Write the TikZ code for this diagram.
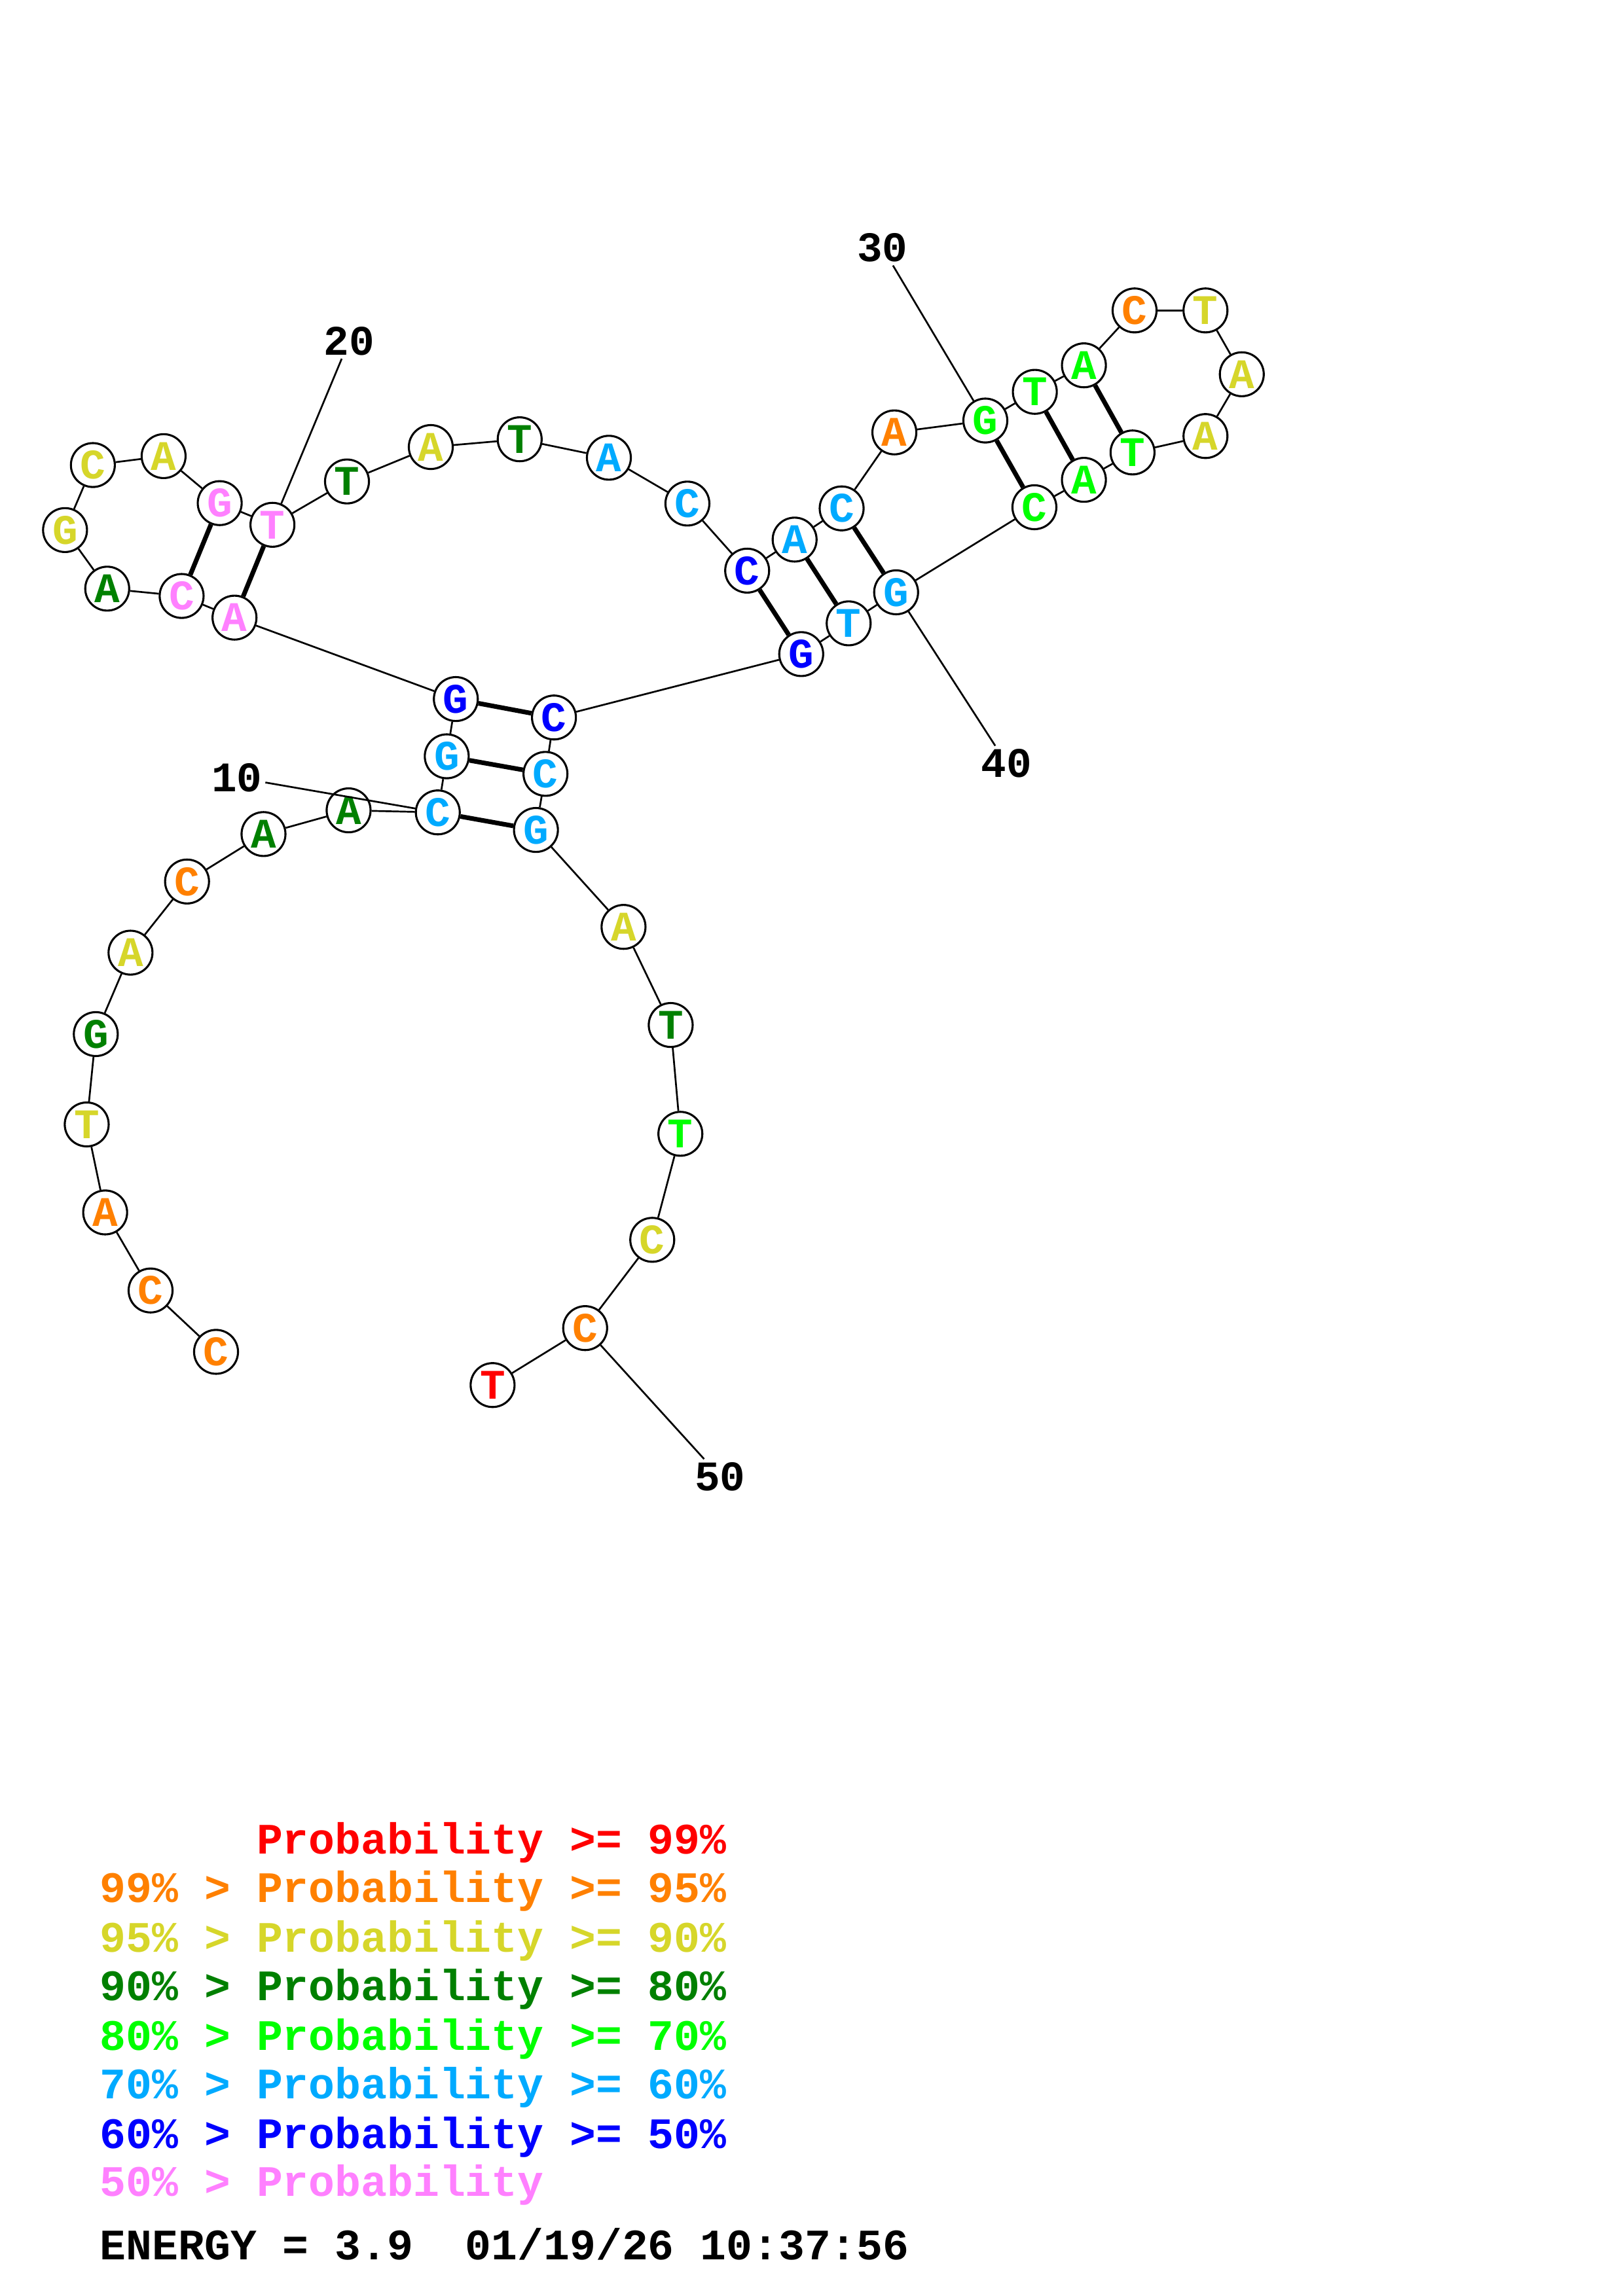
\documentclass[tikz,border=0pt]{standalone}
\usepackage{fontspec}
\setmonofont{Liberation Mono}
\usepackage{tikz}
\definecolor{probRed}{RGB}{255,0,0}
\definecolor{probOrange}{RGB}{255,128,0}
\definecolor{probYellow}{RGB}{214,214,42}
\definecolor{probDkGreen}{RGB}{0,128,0}
\definecolor{probGreen}{RGB}{0,255,0}
\definecolor{probLtBlue}{RGB}{0,170,255}
\definecolor{probBlue}{RGB}{0,0,255}
\definecolor{probPink}{RGB}{255,128,255}
\newcommand{\ntfont}{\ttfamily\bfseries\fontsize{15.5pt}{15.5pt}\selectfont}
\newcommand{\legfont}{\ttfamily\bfseries\fontsize{16pt}{16pt}\selectfont}
\tikzstyle{nucleo}=[circle,draw=black,line width=0.75pt,fill=white,minimum size=5.68mm,inner sep=0pt,font=\ntfont]
\tikzstyle{numlabel}=[inner sep=1pt,font=\ntfont]
\tikzstyle{legend}=[anchor=base west,inner sep=0pt,font=\legfont]
\tikzstyle{edge} = [draw,line width=0.65pt,-]
\tikzstyle{pair} = [draw,line width=1.7pt,-]

\begin{document}
\begin{tikzpicture}[x=0.189413mm,y=-0.189413mm]
    \useasboundingbox (0,0) rectangle (1108,1568);
    % First we draw the bases
    \foreach \pos/\name/\nt/\col in {{(147.5,923.2)/1/C/probOrange}, {(102.8,881.3)/2/C/probOrange},
        {(71.8,828.0)/3/A/probOrange}, {(59.2,767.9)/4/T/probYellow}, {(65.4,706.2)/5/G/probDkGreen},
        {(89.1,650.6)/6/A/probYellow}, {(127.7,602.0)/7/C/probOrange}, {(179.9,569.6)/8/A/probDkGreen},
        {(238.0,553.4)/9/A/probDkGreen}, {(298.9,554.8)/10/C/probLtBlue}, {(305.0,516.5)/11/G/probLtBlue},
        {(311.2,477.4)/12/G/probBlue}, {(160.1,421.8)/13/A/probPink}, {(124.0,407.0)/14/C/probPink},
        {(73.2,402.0)/15/A/probDkGreen}, {(44.4,362.0)/16/G/probYellow}, {(63.4,317.6)/17/C/probYellow},
        {(111.7,311.5)/18/A/probYellow}, {(150.0,343.6)/19/G/probPink}, {(186.0,358.4)/20/T/probPink},
        {(236.9,328.8)/21/T/probDkGreen}, {(294.1,305.3)/22/A/probYellow}, {(354.8,300.0)/23/T/probDkGreen},
        {(415.7,312.6)/24/A/probLtBlue}, {(469.3,343.9)/25/C/probLtBlue}, {(510.1,389.7)/26/C/probBlue},
        {(542.5,368.5)/27/A/probLtBlue}, {(574.6,347.2)/28/C/probLtBlue}, {(610.6,295.3)/29/A/probOrange},
        {(672.7,287.2)/30/G/probGreen}, {(706.5,267.6)/31/T/probGreen}, {(740.0,249.5)/32/A/probGreen},
        {(774.6,212.0)/33/C/probOrange}, {(823.0,212.0)/34/T/probYellow}, {(847.8,255.6)/35/A/probYellow},
        {(823.0,297.8)/36/A/probYellow}, {(773.2,309.0)/37/T/probGreen}, {(740.0,327.7)/38/A/probGreen},
        {(706.2,346.4)/39/C/probGreen}, {(611.8,404.5)/40/G/probLtBlue}, {(579.4,425.7)/41/T/probLtBlue},
        {(547.0,446.7)/42/G/probBlue}, {(378.2,490.0)/43/C/probBlue}, {(372.4,528.5)/44/C/probLtBlue},
        {(365.9,566.8)/45/G/probLtBlue}, {(425.7,633.0)/46/A/probYellow}, {(457.9,700.0)/47/T/probDkGreen},
        {(464.5,774.3)/48/T/probGreen}, {(445.3,846.7)/49/C/probYellow}, {(399.5,907.0)/50/C/probOrange},
        {(336.3,945.9)/51/T/probRed}}
        \node[nucleo,text=\col] (\name) at \pos {\nt};
    % Backbone between neighbours
    \foreach \source in {1,...,50} {
        \pgfmathtruncatemacro{\dest}{\source+1}
        \path[edge] (\source) -- (\dest);
    }
    % Base pairs
    \foreach \source/\dest in {10/45, 11/44, 12/43, 13/20, 14/19, 26/42, 27/41, 28/40, 30/39, 31/38, 32/37}
        \path[pair] (\source) -- (\dest);
    % Position numbers
    \foreach \pos/\num in {{(161.7,531.0)/10}, {(238.3,233.0)/20}, {(602.5,169.3)/30}, {(687.2,521.3)/40}, {(491.6,1008.4)/50}}
        \node[numlabel] (l\num) at \pos {\num};
    \foreach \num in {10,20,30,40,50}
        \path[edge] (l\num) -- (\num);
    % Legend
    \node[legend,text=probRed] (leg1) at (68,1266) {\phantom{99\% > }Probability >= 99\%};
    \node[legend,text=probOrange] (leg2) at (68,1299) {99\% > Probability >= 95\%};
    \node[legend,text=probYellow] (leg3) at (68,1333) {95\% > Probability >= 90\%};
    \node[legend,text=probDkGreen] (leg4) at (68,1366) {90\% > Probability >= 80\%};
    \node[legend,text=probGreen] (leg5) at (68,1400) {80\% > Probability >= 70\%};
    \node[legend,text=probLtBlue] (leg6) at (68,1433) {70\% > Probability >= 60\%};
    \node[legend,text=probBlue] (leg7) at (68,1467) {60\% > Probability >= 50\%};
    \node[legend,text=probPink] (leg8) at (68,1500) {50\% > Probability};
    \node[legend] (energy) at (68,1543) {ENERGY = 3.9\ \ 01/19/26 10:37:56};
\end{tikzpicture}
\end{document}
